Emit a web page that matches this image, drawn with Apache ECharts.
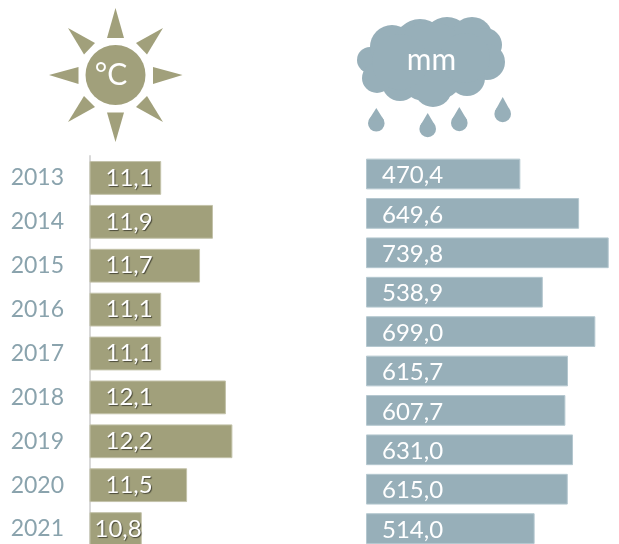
<!DOCTYPE html>
<html><head><meta charset="utf-8">
<style>html,body{margin:0;padding:0;background:#fff;overflow:hidden}#c{width:619px;height:544px}</style>
<script src="https://cdn.jsdelivr.net/npm/echarts@6/dist/echarts.min.js"></script>
</head><body><div id="c"></div>
<script>
const years = ['2013','2014','2015','2016','2017','2018','2019','2020','2021'];
const temperature = [11.1,11.9,11.7,11.1,11.1,12.1,12.2,11.5,10.8];
const rainRows = ['r1','r2','r3','r4','r5','r6','r7','r8','r9','r10'];
const rainfall = [470.4,649.6,739.8,538.9,699.0,615.7,607.7,631.0,615.0,514.0];

const OLIVE = '#a1a07b', BLUE = '#97afb9';
const comma = (v, d) => v.toFixed(d).replace('.', ',');
const FONT = 'Lato';

const sunRays = [
  [[115.5,8],[107,38],[124,38]], [[115.5,142],[107,112.5],[124,112.5]],
  [[49,75],[78.5,67],[78.5,84]], [[182.5,75],[153,67],[153,84]],
  [[68,28],[95,43],[84,54.5]], [[163,28],[136,43],[147,54.5]],
  [[68,122],[84,96],[95,107]], [[163,122],[147,96],[136,107]]
];
const cloudLobes = [
  [370,60,13],[392,47,22],[420,45,26],[447,42,25],[472,38,21],[485,45,17],
  [487,62,18],[467,78,18],[433,88,19],[400,83,18],[377,78,15],[430,62,40],[400,62,28],[465,58,25]
];
const drops = [[376.3,123.3,108],[427.7,129,113],[459.3,123,107],[502.7,114,97]];
const R = 8.3;

const graphic = [];
sunRays.forEach(p => graphic.push({type:'polygon',shape:{points:p},style:{fill:OLIVE}}));
graphic.push({type:'circle',shape:{cx:115.5,cy:75,r:30},style:{fill:OLIVE}});
graphic.push({type:'text',x:111,y:75,style:{text:'°C',fill:'#fff',font:'30px '+FONT,textAlign:'center',textVerticalAlign:'middle'}});
cloudLobes.forEach(c => graphic.push({type:'circle',shape:{cx:c[0],cy:c[1],r:c[2]},style:{fill:BLUE}}));
graphic.push({type:'text',x:431.5,y:60,style:{text:'mm',fill:'#fff',font:'30px '+FONT,textAlign:'center',textVerticalAlign:'middle'}});
drops.forEach(d => {
  graphic.push({type:'circle',shape:{cx:d[0],cy:d[1],r:R},style:{fill:BLUE}});
  graphic.push({type:'polygon',shape:{points:[[d[0],d[2]],[d[0]-R+0.6,d[1]-3],[d[0]+R-0.6,d[1]-3]]},style:{fill:BLUE}});
});

const tempData = temperature.map((v,i) => ({
  value:v,
  label:{distance: v < 11 ? 5 : 16}
}));

const option = {
  animation:false,
  backgroundColor:'#fff',
  graphic,
  grid:[
    {left:90,top:156,width:200,height:395,outerBoundsMode:'none'},
    {left:366,top:154.3,width:250,height:394,outerBoundsMode:'none'}
  ],
  xAxis:[
    {gridIndex:0,type:'value',min:10,max:13.09,show:false},
    {gridIndex:1,type:'value',min:0,max:762,show:false}
  ],
  yAxis:[
    {gridIndex:0,type:'category',inverse:true,data:years,
     axisLine:{show:true,lineStyle:{color:'#d9d9d9',width:2}},axisTick:{show:false},
     axisLabel:{color:'#8aa3ad',fontFamily:FONT,fontSize:23,margin:26,padding:[2,0,0,0]}},
    {gridIndex:1,type:'category',inverse:true,data:rainRows,show:false}
  ],
  series:[
    {type:'bar',xAxisIndex:0,yAxisIndex:0,data:tempData,barWidth:'77%',
     itemStyle:{color:OLIVE,borderColor:'#c3c2a9',borderWidth:1},
     label:{show:true,position:'insideLeft',color:'#fff',fontFamily:FONT,fontSize:24,
       formatter:p=>comma(p.value,1),textShadowColor:'rgba(0,0,0,0.55)',textShadowBlur:1,textShadowOffsetX:1,textShadowOffsetY:1}},
    {type:'bar',xAxisIndex:1,yAxisIndex:1,data:rainfall,barWidth:'78%',
     itemStyle:{color:BLUE,borderColor:'#b4c7cf',borderWidth:1},
     label:{show:true,position:'insideLeft',distance:16,offset:[0,1.5],color:'#fff',fontFamily:FONT,fontSize:24,
       formatter:p=>comma(p.value,1)}}
  ]
};
echarts.init(document.getElementById('c'),null,{renderer:'canvas'}).setOption(option);
</script></body></html>
